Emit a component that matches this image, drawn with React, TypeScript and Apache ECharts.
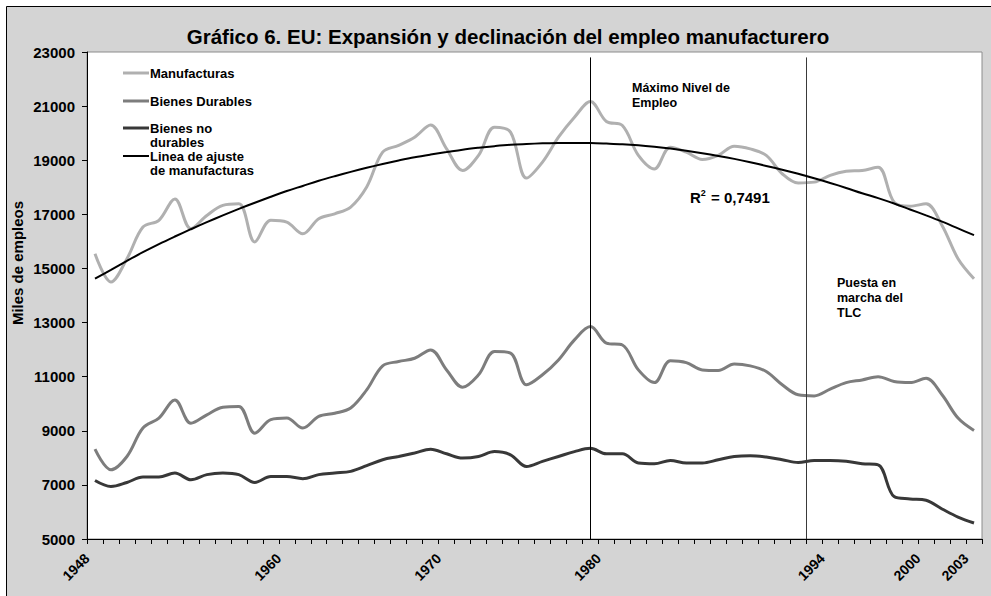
import React, { useEffect, useRef } from 'react';
import * as echarts from 'echarts';

const years = [
  '1948', '1949', '1950', '1951', '1952', '1953', '1954', '1955', '1956', '1957',
  '1958', '1959', '1960', '1961', '1962', '1963', '1964', '1965', '1966', '1967',
  '1968', '1969', '1970', '1971', '1972', '1973', '1974', '1975', '1976', '1977',
  '1978', '1979', '1980', '1981', '1982', '1983', '1984', '1985', '1986', '1987',
  '1988', '1989', '1990', '1991', '1992', '1993', '1994', '1995', '1996', '1997',
  '1998', '1999', '2000', '2001', '2002', '2003',
];

// labels are drawn at the start boundary of each year's category
const yearBoundaries = [...years, '2004'];
const labeledYears = ['1948', '1960', '1970', '1980', '1994', '2000', '2003'];

const manufacturas = [
  15540, 14500, 15360, 16530, 16780, 17570, 16470, 16960, 17330, 17390,
  15980, 16780, 16710, 16280, 16840, 17020, 17270, 18010, 19300, 19550,
  19850, 20300, 19420, 18620, 19180, 20220, 20040, 18340, 18930, 19850,
  20590, 21170, 20430, 20280, 19180, 18680, 19480, 19300, 19030, 19180,
  19520, 19420, 19180, 18500, 18160, 18190, 18440, 18590, 18620, 18740,
  17450, 17300, 17390, 16590, 15360, 14620,
];

const bienesDurables = [
  8320, 7560, 8050, 9100, 9470, 10140, 9280, 9590, 9870, 9900,
  8910, 9410, 9470, 9100, 9530, 9650, 9840, 10510, 11400, 11560,
  11680, 11990, 11250, 10610, 11070, 11930, 11870, 10700, 11070, 11620,
  12360, 12850, 12240, 12170, 11250, 10780, 11590, 11520, 11250, 11230,
  11470, 11400, 11190, 10700, 10330, 10290, 10540, 10780, 10880, 11000,
  10820, 10780, 10940, 10330, 9470, 9010,
];

const bienesNoDurables = [
  7160, 6940, 7090, 7290, 7290, 7440, 7190, 7380, 7440, 7380,
  7090, 7310, 7310, 7230, 7380, 7440, 7500, 7710, 7930, 8050,
  8180, 8320, 8150, 7990, 8050, 8230, 8110, 7680, 7870, 8050,
  8230, 8350, 8150, 8150, 7810, 7780, 7900, 7810, 7810, 7930,
  8050, 8080, 8030, 7930, 7830, 7900, 7900, 7870, 7780, 7740,
  6570, 6480, 6430, 6110, 5810, 5590,
];

const lineaAjuste = [
  14620, 14950, 15280, 15600, 15900, 16180, 16450, 16710, 16960, 17200,
  17430, 17650, 17860, 18050, 18240, 18410, 18570, 18720, 18860, 18990,
  19110, 19210, 19300, 19390, 19460, 19520, 19570, 19600, 19625, 19640,
  19640, 19635, 19615, 19590, 19550, 19495, 19430, 19350, 19260, 19160,
  19050, 18925, 18790, 18650, 18500, 18335, 18160, 17975, 17780, 17600,
  17400, 17180, 16960, 16730, 16480, 16230,
];

// reference lines, in category-index units: employment peak, TLC start
const referenceLines = [
  { pos: 31, top: 22800, color: '#000000' },
  { pos: 44.5, top: 22800, color: '#3a3a3a' },
];

const seriesNames = [
  'Manufacturas',
  'Bienes Durables',
  'Bienes no durables',
  'Linea de ajuste de manufacturas',
];
const legendLines = [['Manufacturas'], ['Bienes Durables'], ['Bienes no', 'durables'], ['Linea de ajuste', 'de manufacturas']];
const colors = ['#b0b0b0', '#7d7d7d', '#383838', '#000000'];
const widths = [3, 3, 3, 2];

const FONT = "'Liberation Sans', Arial, Helvetica, sans-serif";

export default function App() {
  const ref = useRef<HTMLDivElement>(null);

  useEffect(() => {
    if (!ref.current) return;
    const chart = echarts.init(ref.current, null, { renderer: 'svg' });

    const dataSets = [manufacturas, bienesDurables, bienesNoDurables, lineaAjuste];

    const legendGraphics: any[] = [];
    const legendY = [73, 101, 128, 156];
    legendLines.forEach((lines, i) => {
      legendGraphics.push({
        type: 'line',
        silent: true,
        shape: { x1: 123, y1: legendY[i], x2: 149, y2: legendY[i] },
        style: { stroke: colors[i], lineWidth: widths[i] },
        z: 10,
      });
      lines.forEach((t, j) => {
        legendGraphics.push({
          type: 'text',
          silent: true,
          x: 150,
          y: legendY[i] + j * 14.5,
          style: {
            text: t,
            font: `bold 13px ${FONT}`,
            fill: '#000',
            align: 'left',
            verticalAlign: 'middle',
            textAlign: 'left',
            textVerticalAlign: 'middle',
          },
          z: 10,
        });
      });
    });

    const textAt = (text: string, x: number, y: number, size = 12.5) => ({
      type: 'text',
      silent: true,
      x,
      y,
      style: {
        text,
        font: `bold ${size}px ${FONT}`,
        fill: '#000',
        align: 'left',
        verticalAlign: 'middle',
        textAlign: 'left',
        textVerticalAlign: 'middle',
      },
      z: 10,
    });

    chart.setOption({
      animation: false,
      title: {
        text: 'Gráfico 6. EU: Expansión y declinación del empleo manufacturero',
        left: 503,
        textAlign: 'center',
        top: 21,
        textStyle: { fontFamily: FONT, fontSize: 20.5, fontWeight: 'bold', color: '#000' },
      },
      grid: {
        left: 87,
        right: 9,
        top: 52,
        bottom: 57,
        show: true,
        backgroundColor: '#ffffff',
        borderColor: '#8c8c8c',
        borderWidth: 1,
      },
      xAxis: [
        {
          type: 'category',
          data: years,
          boundaryGap: true,
          position: 'bottom',
          axisLine: { show: true, onZero: false, lineStyle: { color: '#000', width: 1 } },
          axisTick: { show: true, interval: 0, length: 5, lineStyle: { color: '#000' } },
          axisLabel: { show: false },
          splitLine: { show: false },
        },
        {
          type: 'category',
          data: yearBoundaries,
          boundaryGap: false,
          position: 'bottom',
          axisLine: { show: false, onZero: false },
          axisTick: { show: false },
          axisLabel: {
            interval: 0,
            rotate: 45,
            margin: 17,
            fontFamily: FONT,
            fontSize: 14,
            fontWeight: 'bold',
            color: '#000',
            formatter: (v: string) => (labeledYears.includes(v) ? v : ''),
          },
          splitLine: { show: false },
        },
        {
          type: 'value',
          min: -0.5,
          max: 55.5,
          show: false,
          axisLine: { onZero: false },
        },
      ],
      yAxis: {
        type: 'value',
        min: 5000,
        max: 23000,
        interval: 2000,
        axisLine: { show: true, onZero: false, lineStyle: { color: '#000', width: 1 } },
        axisTick: { show: true, length: 5, lineStyle: { color: '#000' } },
        axisLabel: {
          margin: 12,
          fontFamily: FONT,
          fontSize: 15,
          fontWeight: 'bold',
          color: '#000',
          formatter: (v: number) => String(v),
        },
        splitLine: { show: false },
      },
      series: [
        ...dataSets.map((d, i) => ({
          name: seriesNames[i],
          type: 'line',
          xAxisIndex: 0,
          data: d,
          smooth: 0.35,
          symbol: 'none',
          lineStyle: { color: colors[i], width: widths[i] },
          itemStyle: { color: colors[i] },
          z: 2 + i,
        })),
        {
          name: 'referencias',
          type: 'line',
          xAxisIndex: 2,
          yAxisIndex: 0,
          data: [],
          symbol: 'none',
          markLine: {
            silent: true,
            symbol: ['none', 'none'],
            label: { show: false },
            data: referenceLines.map((r) => [
              { coord: [r.pos, r.top], lineStyle: { color: r.color, width: 1, type: 'solid' } },
              { coord: [r.pos, 5000] },
            ]),
          },
        },
      ],
      graphic: [
        {
          type: 'rect',
          silent: true,
          z: -100,
          shape: { x: 6.5, y: 6.5, width: 1000, height: 1000 },
          style: { fill: '#d4d4d4', stroke: '#000', lineWidth: 1 },
        },
        {
          type: 'text',
          silent: true,
          x: 17,
          y: 263,
          rotation: Math.PI / 2,
          style: {
            text: 'Miles de empleos',
            font: `bold 15px ${FONT}`,
            fill: '#000',
            align: 'center',
            verticalAlign: 'middle',
            textAlign: 'center',
            textVerticalAlign: 'middle',
          },
        },
        ...legendGraphics,
        textAt('Máximo Nivel de', 632, 88),
        textAt('Empleo', 632, 102.5),
        {
          type: 'text',
          silent: true,
          x: 690,
          y: 197,
          style: {
            text: '{r|R}{s|2}{r| = 0,7491}',
            font: `bold 15px ${FONT}`,
            fill: '#000',
            align: 'left',
            verticalAlign: 'middle',
            textAlign: 'left',
            textVerticalAlign: 'middle',
            rich: {
              r: { fontFamily: FONT, fontSize: 15, fontWeight: 'bold', fill: '#000', color: '#000' },
              s: {
                fontFamily: FONT,
                fontSize: 9,
                fontWeight: 'bold',
                fill: '#000',
                color: '#000',
                padding: [0, 1, 8, 0],
              },
            },
          },
          z: 10,
        },
        textAt('Puesta en', 837, 283),
        textAt('marcha del', 837, 298),
        textAt('TLC', 837, 313),
      ],
    });

    return () => chart.dispose();
  }, []);

  return (
    <div
      ref={ref}
      style={{ position: 'absolute', left: 0, top: 0, width: 991, height: 596, background: '#ffffff' }}
    />
  );
}
